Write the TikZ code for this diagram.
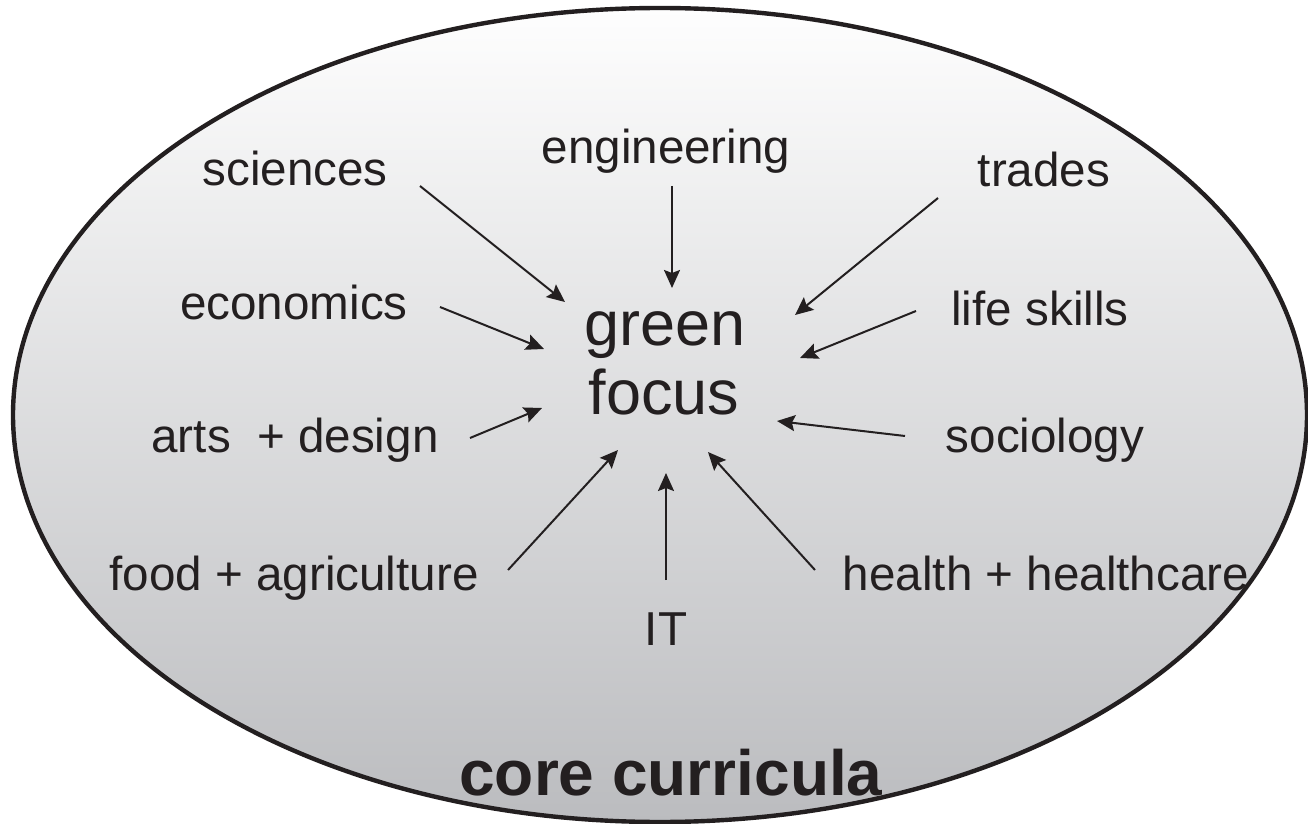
\documentclass[tikz,border=0pt]{standalone}
\usepackage{fontspec}
\setmainfont{Liberation Sans}
\usetikzlibrary{arrows.meta,shapes.geometric}
\definecolor{txt}{RGB}{35,31,32}
\definecolor{shtop}{RGB}{254,254,254}
\definecolor{shmid}{RGB}{221,222,225}
\definecolor{shbot}{RGB}{187,188,191}
\tikzset{
  lbl/.style={anchor=base, inner sep=0pt, text=txt, font=\fontsize{23.8}{28}\selectfont},
  arr/.style={draw=txt, line width=1pt, -{Stealth[length=9pt,width=8pt,inset=1.5pt]}},
  outer/.style={ellipse, draw=txt, line width=2.2pt, minimum width=647pt, minimum height=407pt, inner sep=0pt,
    top color=shtop, middle color=shmid, bottom color=shbot}
}
\begin{document}
\begin{tikzpicture}[x=0.5pt,y=-0.5pt]
\useasboundingbox (0,0) rectangle (1308,824);
\node[outer] (ell) at (660,415) {};
% labels
\node[lbl] (sci) at (295,185) {sciences};
\node[lbl] (eng) at (666,163) {engineering};
\node[lbl] (tra) at (1044,187) {trades};
\node[lbl] (eco) at (294,320) {economics};
\node[lbl] (lif) at (1040,325) {life skills};
\node[lbl] (art) at (295,452) {arts\ \ + design};
\node[lbl] (soc) at (1045,452) {sociology};
\node[lbl] (foo) at (294,590) {food + agriculture};
\node[lbl] (hea) at (1046,590) {health + healthcare};
\node[lbl] (it) at (666,645) {IT};
\node[anchor=base, inner sep=0pt, text=txt, font=\fontsize{31.5}{34.5}\selectfont] (green) at (665,345) {green};
\node[anchor=base, inner sep=0pt, text=txt, font=\fontsize{31.5}{34.5}\selectfont] (focus) at (664,414) {focus};
\node[anchor=base, inner sep=0pt, text=txt, font=\fontsize{32}{36}\selectfont\bfseries] (core) at (671,795) {core curricula};
% arrow end points
\coordinate (sciS) at (420,186); \coordinate (sciE) at (565,302);
\coordinate (engS) at (672,186); \coordinate (engE) at (672,288);
\coordinate (traS) at (938,198); \coordinate (traE) at (795,315);
\coordinate (ecoS) at (440,307); \coordinate (ecoE) at (544,349);
\coordinate (lifS) at (916,311); \coordinate (lifE) at (800,358);
\coordinate (artS) at (470,438); \coordinate (artE) at (542,408);
\coordinate (socS) at (905,436); \coordinate (socE) at (777,421);
\coordinate (fooS) at (508,570); \coordinate (fooE) at (618,450);
\coordinate (itS) at (666,580); \coordinate (itE) at (666,473);
\coordinate (heaS) at (815,570); \coordinate (heaE) at (708,452);
\draw[arr] (sciS) -- (sciE);
\draw[arr] (engS) -- (engE);
\draw[arr] (traS) -- (traE);
\draw[arr] (ecoS) -- (ecoE);
\draw[arr] (lifS) -- (lifE);
\draw[arr] (artS) -- (artE);
\draw[arr] (socS) -- (socE);
\draw[arr] (fooS) -- (fooE);
\draw[arr] (itS) -- (itE);
\draw[arr] (heaS) -- (heaE);
\end{tikzpicture}
\end{document}
